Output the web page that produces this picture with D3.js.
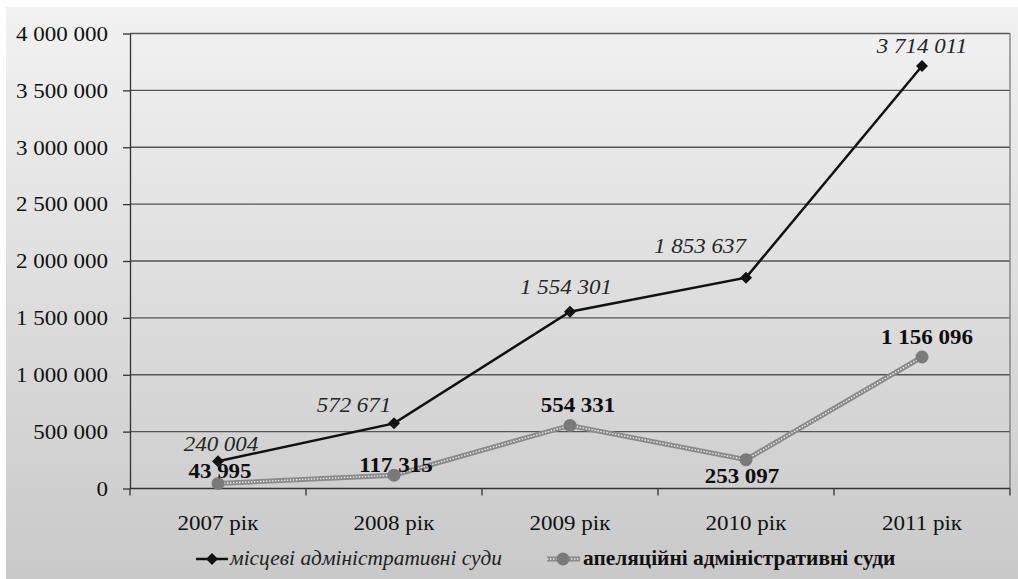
<!DOCTYPE html>
<html><head><meta charset="utf-8">
<script src="https://cdn.jsdelivr.net/npm/d3@7"></script>
<style>body{margin:0;background:#fff}svg{display:block}text{font-family:'Liberation Serif','Tinos','Times New Roman','FreeSerif'}</style>
</head><body><svg id="c" width="1018" height="579"></svg>
<script>
// ---------- data ----------
const categories = ["2007 рік", "2008 рік", "2009 рік", "2010 рік", "2011 рік"];
const localCourts = [240004, 572671, 1554301, 1853637, 3714011];
const appealCourts = [43995, 117315, 554331, 253097, 1156096];
const yTicks = [0, 500000, 1000000, 1500000, 2000000, 2500000, 3000000, 3500000, 4000000];
const seriesNames = ["місцеві адміністративні суди", "апеляційні адміністративні суди"];

// ---------- layout / style ----------
const W = 1018, H = 579;
const plot = {left: 130, right: 1010, top: 33.5, bottom: 488.5};
const SX = 1.15; // horizontal stretch of the text
const LEGEND_SX = 1.07;
const FONT = "'Liberation Serif','Tinos','Times New Roman','FreeSerif'";
const localLabelOffsets = [[3, -10], [-40, -11], [-4, -18], [-46, -25], [0, -13]];
const appealLabelOffsets = [[2, -5.5], [2, -3], [8, -13], [-4, 23], [5, -13]];

const fmt = d3.formatLocale({decimal: ",", thousands: " ", grouping: [3], currency: ["", ""]}).format(",");

const svg = d3.select("#c");
const defs = svg.append("defs");
const grad = defs.append("linearGradient").attr("id", "bg").attr("x1", 0).attr("y1", 0).attr("x2", 0).attr("y2", 1);
grad.append("stop").attr("offset", "0%").attr("stop-color", "#f2f2f2");
grad.append("stop").attr("offset", "100%").attr("stop-color", "#c9c9c9");

svg.append("rect").attr("x", 6).attr("y", 7).attr("width", W - 6).attr("height", H - 7).attr("fill", "url(#bg)");

const x = d3.scaleBand().domain(categories).range([plot.left, plot.right]).padding(0);
const y = d3.scaleLinear().domain([0, 4000000]).range([plot.bottom, plot.top]);
const cx = (d) => x(d) + x.bandwidth() / 2;

function addText(g, px, py, str, opts) {
  return g.append("text")
    .attr("transform", `translate(${px},${py}) scale(${opts.sx || SX},1)`)
    .attr("text-anchor", opts.anchor || "middle")
    .style("font-family", FONT)
    .style("font-size", "20px")
    .style("font-style", opts.italic ? "italic" : "normal")
    .style("font-weight", opts.bold ? "bold" : "normal")
    .attr("fill", opts.fill || "#111")
    .text(str);
}

// gridlines
svg.append("g").selectAll("line").data(yTicks.filter(d => d > 0)).join("line")
  .attr("x1", plot.left).attr("x2", plot.right)
  .attr("y1", d => y(d)).attr("y2", d => y(d))
  .attr("stroke", "#555").attr("stroke-width", 1.3);

// right border of plot area
svg.append("line").attr("x1", plot.right).attr("x2", plot.right)
  .attr("y1", plot.top).attr("y2", plot.bottom)
  .attr("stroke", "#7a7a7a").attr("stroke-width", 1.3);

// y axis
const yAxis = svg.append("g").attr("transform", `translate(${plot.left},0)`)
  .call(d3.axisLeft(y).tickValues(yTicks).tickSize(7).tickSizeOuter(0).tickFormat(fmt));
yAxis.attr("font-family", null).attr("font-size", null);
yAxis.select(".domain").attr("stroke", "#333").attr("stroke-width", 1.3);
yAxis.selectAll(".tick line").attr("stroke", "#333").attr("stroke-width", 1.3);
yAxis.selectAll(".tick text")
  .attr("x", -22 / SX).attr("dy", "0.34em")
  .attr("transform", `scale(${SX},1)`)
  .style("font-family", FONT).style("font-size", "20px").attr("fill", "#111");

// x axis (ticks at category boundaries)
const xb = svg.append("g");
xb.append("line").attr("x1", plot.left).attr("x2", plot.right)
  .attr("y1", plot.bottom).attr("y2", plot.bottom)
  .attr("stroke", "#333").attr("stroke-width", 1.3);
const bounds = categories.map(d => x(d)).concat([x(categories[categories.length - 1]) + x.bandwidth()]);
xb.selectAll("line.tk").data(bounds).join("line").attr("class", "tk")
  .attr("x1", d => d).attr("x2", d => d)
  .attr("y1", plot.bottom).attr("y2", plot.bottom + 7)
  .attr("stroke", "#333").attr("stroke-width", 1.3);
categories.forEach(c => addText(xb, cx(c), 530, c, {fill: "#111"}));

// series: local courts
const lineGen = d3.line().x((d, i) => cx(categories[i])).y(d => y(d));
const diamond = "M0,-6L6,0L0,6L-6,0Z";

const gLocal = svg.append("g");
gLocal.append("path").attr("d", lineGen(localCourts)).attr("fill", "none")
  .attr("stroke", "#111").attr("stroke-width", 2.5);
gLocal.selectAll("path.m").data(localCourts).join("path").attr("class", "m")
  .attr("d", diamond)
  .attr("transform", (d, i) => `translate(${cx(categories[i])},${y(d)})`)
  .attr("fill", "#111");

// series: appeal courts
const gApp = svg.append("g");
gApp.append("path").attr("d", lineGen(appealCourts)).attr("fill", "none")
  .attr("stroke", "#8a8a8a").attr("stroke-width", 5);
gApp.append("path").attr("d", lineGen(appealCourts)).attr("fill", "none")
  .attr("stroke", "#eeeeee").attr("stroke-width", 1.4).attr("stroke-dasharray", "1.4,1.6");
gApp.selectAll("circle").data(appealCourts).join("circle")
  .attr("cx", (d, i) => cx(categories[i])).attr("cy", d => y(d)).attr("r", 6.5)
  .attr("fill", "#7a7a7a");

// data labels
const gLab = svg.append("g");
localCourts.forEach((v, i) => {
  const o = localLabelOffsets[i];
  addText(gLab, cx(categories[i]) + o[0], y(v) + o[1], fmt(v), {italic: true, fill: "#262626"});
});
appealCourts.forEach((v, i) => {
  const o = appealLabelOffsets[i];
  addText(gLab, cx(categories[i]) + o[0], y(v) + o[1], fmt(v), {bold: true, fill: "#0d0d0d"});
});

// legend
const gLeg = svg.append("g");
gLeg.append("line").attr("x1", 196).attr("x2", 228).attr("y1", 559).attr("y2", 559)
  .attr("stroke", "#111").attr("stroke-width", 2.5);
gLeg.append("path").attr("d", diamond).attr("transform", "translate(212,559)").attr("fill", "#111");
addText(gLeg, 230, 565, seriesNames[0], {anchor: "start", italic: true, fill: "#222", sx: LEGEND_SX});

gLeg.append("line").attr("x1", 547).attr("x2", 580).attr("y1", 559).attr("y2", 559)
  .attr("stroke", "#8a8a8a").attr("stroke-width", 5);
gLeg.append("line").attr("x1", 547).attr("x2", 580).attr("y1", 559).attr("y2", 559)
  .attr("stroke", "#eeeeee").attr("stroke-width", 1.4).attr("stroke-dasharray", "1.4,1.6");
gLeg.append("circle").attr("cx", 563).attr("cy", 559).attr("r", 6.5).attr("fill", "#7a7a7a");
addText(gLeg, 583, 565, seriesNames[1], {anchor: "start", bold: true, fill: "#111", sx: LEGEND_SX});
</script>
</body></html>
